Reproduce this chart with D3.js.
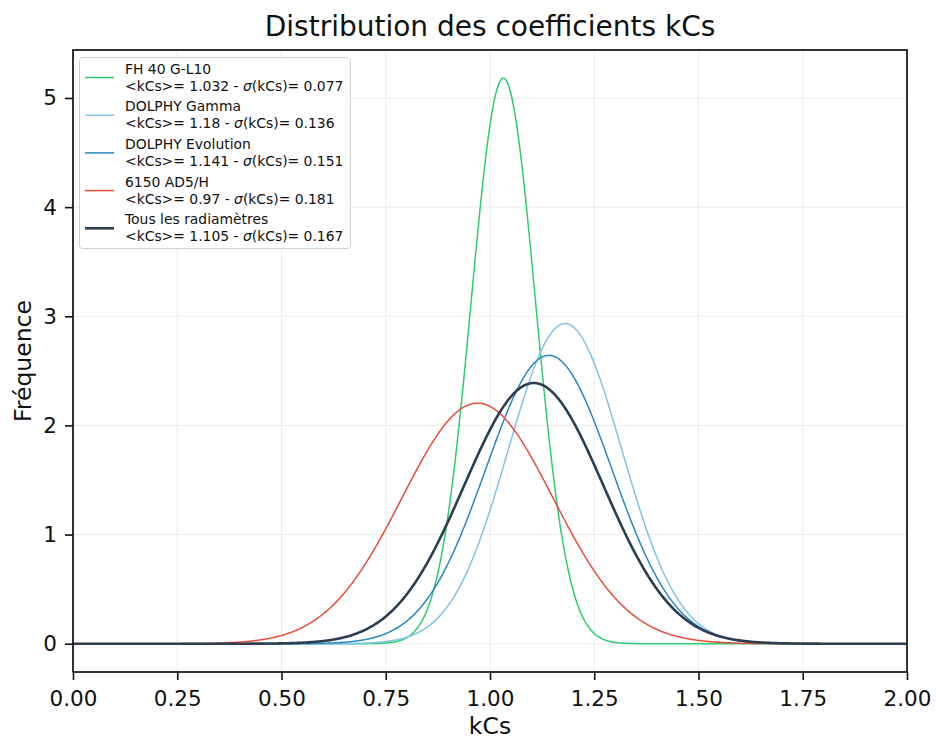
<!DOCTYPE html>
<html>
<head>
<meta charset="utf-8">
<script src="https://cdn.jsdelivr.net/npm/d3@7"></script>
<style>
  body { margin: 0; background: #fff; }
  svg { font-family: "DejaVu Sans", sans-serif; }
</style>
</head>
<body>
<svg id="chart" width="936" height="740"></svg>
<script>
const seriesNames = ["FH 40 G-L10", "DOLPHY Gamma", "DOLPHY Evolution", "6150 AD5/H", "Tous les radiamètres"];
const seriesMeans = [1.032, 1.18, 1.141, 0.97, 1.105];
const seriesSigmas = [0.077, 0.136, 0.151, 0.181, 0.167];
const xTicks = [0.00, 0.25, 0.50, 0.75, 1.00, 1.25, 1.50, 1.75, 2.00];
const yTicks = [0, 1, 2, 3, 4, 5];
const xDomain = [0, 2];

// ---- styles ----
const seriesColors = ["#2ecc71", "#85c1e9", "#2e86c1", "#e74c3c", "#2c3e50"];
const seriesWidths = [1.5, 1.5, 1.5, 1.5, 2.6];

const svg = d3.select("#chart");
const margin = { left: 73, right: 29, top: 50, bottom: 68 };
const W = 936, H = 740;
const pw = W - margin.left - margin.right;
const ph = H - margin.top - margin.bottom;

const N = 1000;
const xs = d3.range(N).map(i => xDomain[0] + (xDomain[1] - xDomain[0]) * i / (N - 1));
const pdf = (x, m, s) => Math.exp(-0.5 * ((x - m) / s) ** 2) / (s * Math.sqrt(2 * Math.PI));
const series = seriesNames.map((name, i) => ({
  name, mean: seriesMeans[i], sigma: seriesSigmas[i],
  values: xs.map(x => ({ x, y: pdf(x, seriesMeans[i], seriesSigmas[i]) }))
}));
const yMax = d3.max(series, s => d3.max(s.values, d => d.y));
const yMin = 0;
const pad = (yMax - yMin) * 0.05;

const x = d3.scaleLinear().domain(xDomain).range([margin.left, margin.left + pw]);
const y = d3.scaleLinear().domain([yMin - pad, yMax + pad]).range([margin.top + ph, margin.top]);

// grid
const grid = svg.append("g");
grid.selectAll(".gx").data(xTicks).enter().append("line")
  .attr("x1", d => x(d)).attr("x2", d => x(d))
  .attr("y1", margin.top).attr("y2", margin.top + ph)
  .attr("stroke", "#ebebeb").attr("stroke-width", 1);
grid.selectAll(".gy").data(yTicks).enter().append("line")
  .attr("y1", d => y(d)).attr("y2", d => y(d))
  .attr("x1", margin.left).attr("x2", margin.left + pw)
  .attr("stroke", "#ebebeb").attr("stroke-width", 1);

// clip
svg.append("clipPath").attr("id", "clip").append("rect")
  .attr("x", margin.left).attr("y", margin.top).attr("width", pw).attr("height", ph);

const line = d3.line().x(d => x(d.x)).y(d => y(d.y));
svg.append("g").attr("clip-path", "url(#clip)")
  .selectAll("path").data(series).enter().append("path")
  .attr("d", d => line(d.values))
  .attr("fill", "none")
  .attr("stroke", (d, i) => seriesColors[i])
  .attr("stroke-width", (d, i) => seriesWidths[i])
  .attr("stroke-linejoin", "round");

// axes
const xAxis = d3.axisBottom(x).tickValues(xTicks).tickFormat(d3.format(".2f")).tickSizeOuter(0).tickSize(8).tickPadding(11);
const yAxis = d3.axisLeft(y).tickValues(yTicks).tickFormat(d3.format("d")).tickSizeOuter(0).tickSize(8).tickPadding(8);
const gx = svg.append("g").attr("transform", `translate(0,${margin.top + ph})`).call(xAxis);
const gy = svg.append("g").attr("transform", `translate(${margin.left},0)`).call(yAxis);
[gx, gy].forEach(g => {
  g.select(".domain").remove();
  g.selectAll(".tick line").attr("stroke", "#111").attr("stroke-width", 1.6);
  g.selectAll(".tick text").attr("fill", "#111").style("font-size", "21.5px").style("font-family", "DejaVu Sans");
});

// frame
svg.append("rect").attr("x", margin.left).attr("y", margin.top).attr("width", pw).attr("height", ph)
  .attr("fill", "none").attr("stroke", "#111").attr("stroke-width", 1.7);

// title & labels
svg.append("text").attr("x", margin.left + pw / 2).attr("y", 36).attr("text-anchor", "middle")
  .style("font-size", "28px").attr("fill", "#111").text("Distribution des coefficients kCs");
svg.append("text").attr("x", margin.left + pw / 2).attr("y", 734).attr("text-anchor", "middle")
  .style("font-size", "23.5px").attr("fill", "#111").text("kCs");
svg.append("text").attr("transform", `translate(31,${margin.top + ph / 2}) rotate(-90)`).attr("text-anchor", "middle")
  .style("font-size", "23.5px").attr("fill", "#111").text("Fréquence");

// legend
const lg = svg.append("g");
lg.append("rect").attr("x", 79.5).attr("y", 57.5).attr("width", 271).attr("height", 191).attr("rx", 3)
  .attr("fill", "#fff").attr("fill-opacity", 0.85).attr("stroke", "#d0d0d0").attr("stroke-width", 1);
const step = 37.7;
series.forEach((s, i) => {
  const cy = 77.5 + i * step;
  lg.append("line").attr("x1", 85).attr("x2", 114).attr("y1", cy).attr("y2", cy)
    .attr("stroke", seriesColors[i]).attr("stroke-width", seriesWidths[i]);
  const t = lg.append("text").attr("x", 125).attr("y", cy - 4).style("font-size", "13.9px").attr("fill", "#111");
  t.append("tspan").attr("x", 125).text(s.name);
  const t2 = lg.append("text").attr("x", 125).attr("y", cy + 13).style("font-size", "13.9px").attr("fill", "#111");
  t2.append("tspan").text(`<kCs>= ${s.mean} - `);
  t2.append("tspan").style("font-style", "italic").text("σ");
  t2.append("tspan").text(`(kCs)= ${s.sigma}`);
});
</script>
</body>
</html>
